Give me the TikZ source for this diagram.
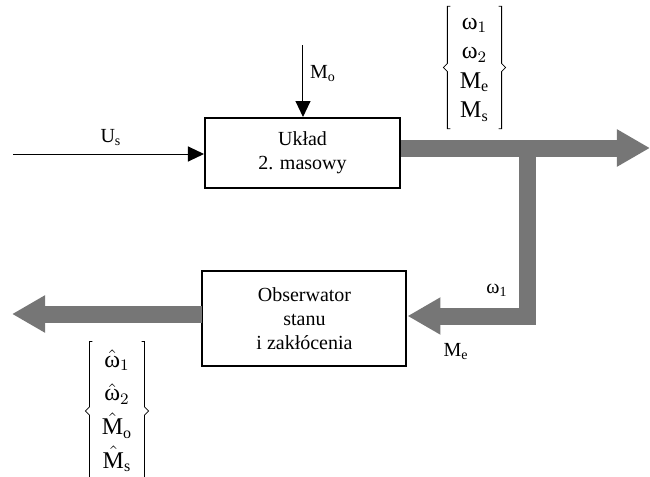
\documentclass[tikz,border=0pt]{standalone}
\usepackage{fontspec}
\setmainfont{Liberation Serif}
\usetikzlibrary{arrows.meta}
\definecolor{flowgray}{RGB}{118,118,118}
\newcommand\vecbraces[1]{%
	\draw[thin] ([xshift=1.5pt]#1.north west) -| ([yshift=2pt]#1.west) -- ([xshift=-2pt]#1.west) -- ([yshift=-2pt]#1.west) |- ([xshift=1.5pt]#1.south west);
	\draw[thin] ([xshift=-1.5pt]#1.north east) -| ([yshift=2pt]#1.east) -- ([xshift=2pt]#1.east) -- ([yshift=-2pt]#1.east) |- ([xshift=-1.5pt]#1.south east);
}
\tikzset{
	block/.style = {draw, line width=1pt, fill=white, align=center},
	signal/.style = {line width=0.5pt, -{Triangle[length=8pt,width=7.5pt]}},
	flow/.style = {draw=flowgray, line width=8.5pt, line join=miter, -{Triangle[length=16.5pt,width=17.5pt]}},
	vec/.style = {inner sep=1pt, minimum width=23pt, font=\large}
}
\begin{document}
\begin{tikzpicture}[x=0.5pt,y=-0.5pt]
	\useasboundingbox (0,0) rectangle (650,477);
%
	\node[block, minimum width=97.5pt, minimum height=35pt] (sys) at (302.5,153) {Układ\\2. masowy};
	\node[block, minimum width=102pt, minimum height=47.5pt] (obs) at (304.5,318.5) {Obserwator\\stanu\\i zakłócenia};
%
	\coordinate (us) at (13,154);
	\coordinate (mo) at (303,45);
	\coordinate (j1) at (528,148);
	\coordinate (j2) at (528,316);
	\coordinate (tipR) at (650,148);
	\coordinate (tipL) at (12,314);
%
	\draw[signal] (us) -- (sys.west |- us);
	\draw[signal] (mo) -- (mo |- sys.north);
	\draw[flow] (sys.east |- j1) -- (tipR);
	\draw[flow] (j1) -- (j2) -- (obs.east |- j2);
	\draw[flow] (obs.west |- tipL) -- (tipL);
%
	\node (lus) at (111,138) {U\textsubscript{s}};
	\node (lmo) at (323,74) {M\textsubscript{o}};
	\node (lw1) at (497,290) {ω\textsubscript{1}};
	\node (lme) at (456,352) {M\textsubscript{e}};
%
	\renewcommand\arraystretch{1.05}
	\node[vec] (xout) at (474.5,67.5) {$\begin{array}{c} \mbox{ω}_1\\ \mbox{ω}_2\\ \mathrm{M}_{\mathrm{e}}\\ \mathrm{M}_{\mathrm{s}} \end{array}$};
	\vecbraces{xout}
	\renewcommand\arraystretch{1.2}
	\node[vec, minimum width=25pt] (xest) at (117,411) {$\begin{array}{c} \hat{\mbox{ω}}_1\\ \hat{\mbox{ω}}_2\\ \hat{\mathrm{M}}_{\mathrm{o}}\\ \hat{\mathrm{M}}_{\mathrm{s}} \end{array}$};
	\vecbraces{xest}
\end{tikzpicture}
\end{document}
